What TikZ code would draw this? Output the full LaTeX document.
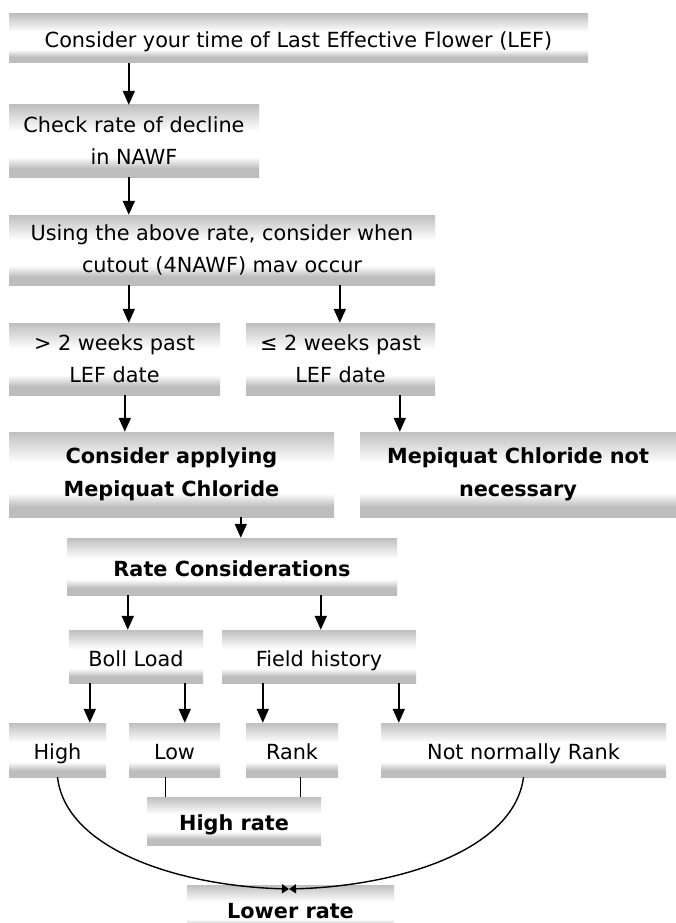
\documentclass[tikz,border=0pt]{standalone}
\usepackage{fontspec}
\setmainfont{DejaVu Sans}
\usetikzlibrary{arrows.meta,shadings}
\definecolor{boxgray}{gray}{0.75}
\definecolor{boxgrayb}{gray}{0.74}
\pgfdeclareverticalshading{boxshade}{100bp}{color(0bp)=(boxgrayb); color(25bp)=(boxgrayb); color(31bp)=(boxgrayb); color(39bp)=(white); color(57bp)=(white); color(75bp)=(boxgray); color(100bp)=(boxgray)}
\tikzset{
  box/.style={rectangle, shade, shading=boxshade, inner sep=0pt, align=center,
    font=\fontsize{20.8}{32}\selectfont},
  bbox/.style={box, font=\fontsize{20.8}{33}\selectfont\bfseries},
  oneline/.style={text height=20pt, text depth=1pt},
  arr/.style={line width=1.8pt, -{Triangle[length=14pt,width=12pt]}},
  thin line/.style={line width=1.3pt},
  curve/.style={line width=1.4pt, -{Triangle[length=7pt,width=9pt]}}
}
\begin{document}
\begin{tikzpicture}[x=1pt,y=-1pt]
\useasboundingbox[fill=white] (0,0) rectangle (676,923);
\node[box, oneline, minimum width=579pt, minimum height=49pt] (b1) at (298.5,38.5) {Consider your time of Last Effective Flower (LEF)};
\node[box, minimum width=250pt, minimum height=72pt] (b2) at (134,141) {Check rate of decline\\in NAWF};
\node[box, minimum width=426pt, minimum height=70pt] (b3) at (222,250) {Using the above rate, consider when\\cutout (4NAWF) mav occur};
\node[box, minimum width=211pt, minimum height=72pt] (b4a) at (114.5,359) {> 2 weeks past\\LEF date};
\node[box, minimum width=189pt, minimum height=72pt] (b4b) at (340.5,359) {≤ 2 weeks past\\LEF date};
\node[bbox, minimum width=325pt, minimum height=85pt] (b5a) at (171.5,474.5) {Consider applying\\Mepiquat Chloride};
\node[bbox, minimum width=316pt, minimum height=85pt] (b5b) at (518,474.5) {Mepiquat Chloride not\\necessary};
\node[bbox, oneline, minimum width=330pt, minimum height=57pt] (b6) at (232,566.5) {Rate Considerations};
\node[box, oneline, minimum width=134pt, minimum height=53pt] (b7a) at (136,656.5) {Boll Load};
\node[box, oneline, minimum width=194pt, minimum height=53pt] (b7b) at (319,656.5) {Field history};
\node[box, oneline, minimum width=97pt, minimum height=54pt] (high) at (57.5,750) {High};
\node[box, oneline, minimum width=91pt, minimum height=54pt] (low) at (174.5,750) {Low};
\node[box, oneline, minimum width=92pt, minimum height=54pt] (rank) at (292,750) {Rank};
\node[box, oneline, minimum width=285pt, minimum height=54pt] (nnr) at (523.5,750) {Not normally Rank};
\node[bbox, oneline, minimum width=174pt, minimum height=48pt] (hr) at (234,821) {High rate};
\node[bbox, oneline, minimum width=207pt, minimum height=47pt] (lr) at (290.5,908.5) {Lower rate};
\coordinate (join) at (289,889);

\draw[arr] ([xshift=120pt]b1.south west) -- ([xshift=120pt]b2.north west);
\draw[arr] ([xshift=120pt]b2.south west) -- ([xshift=120pt]b3.north west);
\draw[arr] ([xshift=120pt]b3.south west) -- ([xshift=120pt]b4a.north west);
\draw[arr] ([xshift=331pt]b3.south west) -- ([xshift=94pt]b4b.north west);
\draw[arr] ([xshift=116pt]b4a.south west) -- ([xshift=116pt]b5a.north west);
\draw[arr] ([xshift=154pt]b4b.south west) -- ([xshift=40pt]b5b.north west);
\draw[arr] ([xshift=232pt]b5a.south west) -- ([xshift=174pt]b6.north west);
\draw[arr] ([xshift=61pt]b6.south west) -- ([xshift=59pt]b7a.north west);
\draw[arr] ([xshift=254pt]b6.south west) -- ([xshift=99pt]b7b.north west);
\draw[arr] ([xshift=21pt]b7a.south west) -- ([xshift=81pt]high.north west);
\draw[arr] ([xshift=116pt]b7a.south west) -- ([xshift=56pt]low.north west);
\draw[arr] ([xshift=41pt]b7b.south west) -- ([xshift=17pt]rank.north west);
\draw[arr] ([xshift=177pt]b7b.south west) -- ([xshift=18pt]nnr.north west);
\draw[thin line] ([xshift=37pt]low.south west) -- ([xshift=19pt]hr.north west);
\draw[thin line] ([xshift=55pt]rank.south west) -- ([xshift=154pt]hr.north west);
\draw[curve] (high.south) .. controls (66,850) and (180,886) .. (join);
\draw[curve] (nnr.south) .. controls (514,850) and (400,886) .. (join);
\end{tikzpicture}
\end{document}
